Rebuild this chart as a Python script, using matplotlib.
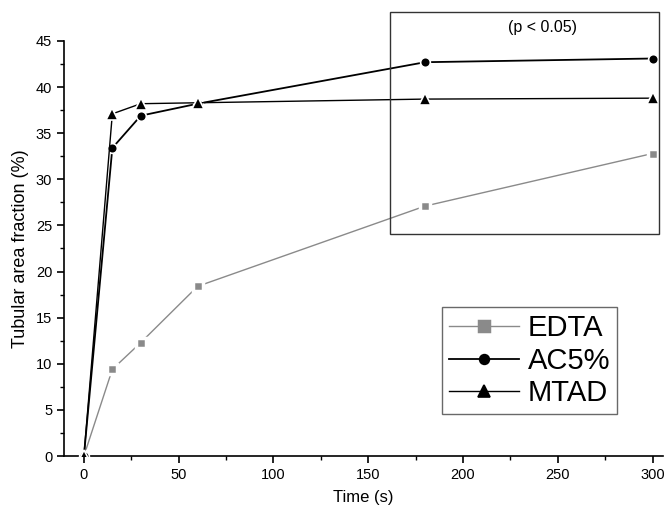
import matplotlib
matplotlib.use("Agg")
import matplotlib.pyplot as plt
from matplotlib.patches import Rectangle
from matplotlib.ticker import MultipleLocator

plt.rcParams['font.family'] = ['Liberation Sans', 'DejaVu Sans']

# data
time_s = [0, 15, 30, 60, 180, 300]
edta = [0, 9.4, 12.3, 18.4, 27.1, 32.8]
ac5 = [0, 33.4, 36.9, 38.2, 42.7, 43.1]
mtad = [0, 37.1, 38.2, 38.3, 38.7, 38.8]

fig = plt.figure(figsize=(6.64, 5.11), dpi=100)
ax = fig.add_axes([0.0964, 0.1076, 0.902, 0.8122])

ax.plot(time_s, edta, color='#8a8a8a', lw=1.0, marker='s', ms=7,
        mfc='#8a8a8a', mec='white', mew=2.5, label='EDTA', zorder=2)
ax.plot(time_s, ac5, color='black', lw=1.3, marker='o', ms=7,
        mfc='black', mec='white', mew=1.2, label='AC5%', zorder=3)
ax.plot(time_s, mtad, color='black', lw=1.0, marker='^', ms=8,
        mfc='black', mec='white', mew=1.2, label='MTAD', zorder=3)

ax.set_xlim(-10.5, 305.5)
ax.set_ylim(0, 45)
ax.xaxis.set_major_locator(MultipleLocator(50))
ax.xaxis.set_minor_locator(MultipleLocator(25))
ax.yaxis.set_major_locator(MultipleLocator(5))
ax.yaxis.set_minor_locator(MultipleLocator(2.5))
ax.tick_params(which='major', direction='out', length=5, width=1.2, labelsize=10.5)
ax.tick_params(which='minor', direction='out', length=3, width=1.0)
for s in ['top', 'right']:
    ax.spines[s].set_visible(False)
for s in ['left', 'bottom']:
    ax.spines[s].set_linewidth(1.2)

ax.set_xlabel('Time (s)', fontsize=12, labelpad=6)
ax.set_ylabel('Tubular area fraction (%)', fontsize=13, labelpad=5)

# significance box (drawn in figure pixels)
box = Rectangle((390 / 664, 1 - 234 / 511), (659 - 390) / 664, (234 - 12) / 511,
                transform=fig.transFigure, fill=False, ec='#333333', lw=1.0)
fig.patches.append(box)
fig.text(543 / 664, 1 - 27 / 511, '(p < 0.05)', ha='center', va='center', fontsize=11.5)

leg = ax.legend(loc='lower right', bbox_to_anchor=(632 / 664, 1 - 429 / 511),
                bbox_transform=fig.transFigure, fontsize=21, handlelength=2.4,
                handletextpad=0.3, labelspacing=0.15, borderpad=0.25,
                frameon=True, fancybox=False, edgecolor='#444444')
leg.get_frame().set_linewidth(1.0)
for h in leg.legend_handles:
    h.set_markeredgecolor(h.get_markerfacecolor())

fig.savefig('out.png', dpi=100)
